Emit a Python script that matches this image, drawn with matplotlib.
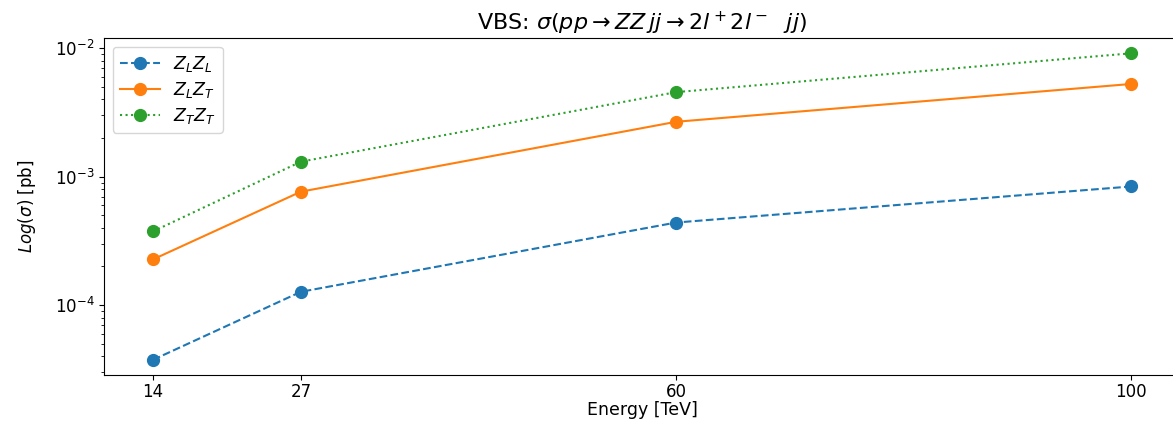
import numpy as np
import matplotlib.pyplot as plt

energy = [14, 27, 60, 100]
sigma_LL = [3.75e-5, 1.27e-4, 4.4e-4, 8.4e-4]
sigma_LT = [2.27e-4, 7.65e-4, 2.68e-3, 5.28e-3]
sigma_TT = [3.75e-4, 1.31e-3, 4.56e-3, 9.15e-3]

plt.rcParams.update({'font.size': 12})

fig = plt.figure(figsize=(11.73, 4.22), dpi=100)
# axes run slightly past the right edge of the canvas
ax = fig.add_axes([0.0887, 0.111, 0.9173, 0.799])

ax.plot(energy, sigma_LL, 'o--', markersize=8.5, label=r'$Z_L Z_L$')
ax.plot(energy, sigma_LT, 'o-', markersize=8.5, label=r'$Z_L Z_T$')
ax.plot(energy, sigma_TT, 'o:', markersize=8.5, label=r'$Z_T Z_T$')

ax.set_yscale('log')
ax.set_xticks(energy)
ax.set_xticklabels([str(e) for e in energy])
ax.tick_params(axis='x', pad=2.5)
ax.set_xlabel('Energy [TeV]', fontsize=12.5, labelpad=0)
ax.set_ylabel(r'$Log(\sigma)$ [pb]', labelpad=12)
ax.set_title(r'VBS: $\sigma(pp \rightarrow ZZ\, jj \rightarrow 2l^+ 2l^-\ \ jj)$', fontsize=16)
ax.legend(loc='upper left', fontsize=12.5, labelspacing=0.35, handlelength=2.3)

fig.savefig('out.png', dpi=100)
